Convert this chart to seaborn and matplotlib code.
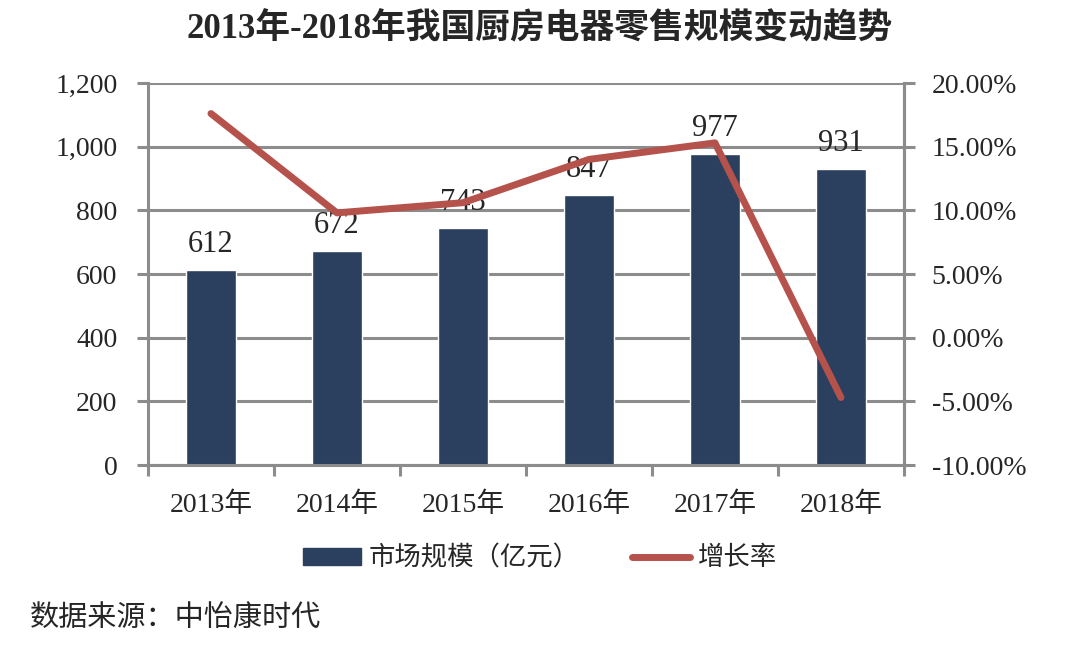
import matplotlib
matplotlib.use('Agg')
import matplotlib.pyplot as plt
import seaborn as sns
import pandas as pd
from matplotlib.lines import Line2D
from matplotlib.patches import Patch
from matplotlib.ticker import FuncFormatter, MultipleLocator, FixedLocator

years = ['2013年', '2014年', '2015年', '2016年', '2017年', '2018年']
market_size = [612, 672, 743, 847, 977, 931]
growth_rate = [17.6, 9.8, 10.6, 14.0, 15.3, -4.7]

bar_color = '#2B3F5E'
line_color = '#B5524C'
grid_color = '#8C8C8C'

sns.set_theme(style='white')
plt.rcParams['font.family'] = ['Liberation Serif', 'Noto Sans CJK SC']
plt.rcParams['axes.unicode_minus'] = False

df = pd.DataFrame({'year': years, 'size': market_size, 'rate': growth_rate})

fig = plt.figure(figsize=(10.8, 6.51), dpi=100)
ax = fig.add_axes([0.137, 0.2857, 0.7, 0.5868])

sns.barplot(data=df, x='year', y='size', color=bar_color, width=0.4,
            saturation=1, ax=ax, zorder=2)
ax.bar_label(ax.containers[0], fmt='%d', padding=8, fontsize=22)

ax.set_ylim(0, 1200)
ax.set_xlim(-0.5, 5.5)
ax.yaxis.set_major_locator(MultipleLocator(200))
ax.yaxis.set_major_formatter(FuncFormatter(lambda v, p: f'{int(v):,}'))
ax.grid(axis='y', color=grid_color, linewidth=2.2, zorder=0)
ax.set_axisbelow(True)
ax.set_xlabel('')
ax.set_ylabel('')

ax.spines['top'].set_visible(False)
for side in ['left', 'bottom', 'right']:
    ax.spines[side].set_color(grid_color)
    ax.spines[side].set_linewidth(2.2)

ax.tick_params(axis='y', direction='out', length=8, width=2.2, color=grid_color,
               pad=14, labelsize=20, left=True)
ax.xaxis.set_minor_locator(FixedLocator([i - 0.5 for i in range(len(years) + 1)]))
ax.tick_params(axis='x', which='major', length=0, pad=20, labelsize=20)
ax.tick_params(axis='x', which='minor', direction='out', length=8, width=2.2,
               color=grid_color, bottom=True)

ax2 = ax.twinx()
sns.lineplot(data=df, x='year', y='rate', color=line_color, linewidth=5,
             ax=ax2, zorder=3, legend=False)
ax2.set_ylim(-10, 20)
ax2.yaxis.set_major_locator(MultipleLocator(5))
ax2.yaxis.set_major_formatter(FuncFormatter(lambda v, p: f'{v:.2f}%'))
ax2.set_ylabel('')
ax2.set_xlabel('')
for side in ['top', 'left', 'bottom']:
    ax2.spines[side].set_visible(False)
ax2.spines['right'].set_color(grid_color)
ax2.spines['right'].set_linewidth(2.2)
ax2.tick_params(axis='y', direction='out', length=8, width=2.2, color=grid_color,
                pad=12, labelsize=20, right=True)
ax2.grid(False)

fig.text(0.5, 0.955, '2013年-2018年我国厨房电器零售规模变动趋势', ha='center', va='center',
         fontsize=25, fontweight='bold')

handles = [Patch(facecolor=bar_color, edgecolor=bar_color),
           Line2D([0], [0], color=line_color, linewidth=5)]
fig.legend(handles, ['市场规模（亿元）', '增长率'], loc='center', bbox_to_anchor=(0.5, 0.143),
           ncol=2, frameon=False, fontsize=19, handlelength=2.2, handleheight=0.6,
           columnspacing=2.0, handletextpad=0.3)

fig.text(0.028, 0.05, '数据来源：中怡康时代', ha='left', va='center', fontsize=21)

fig.savefig('out.png', dpi=100)
